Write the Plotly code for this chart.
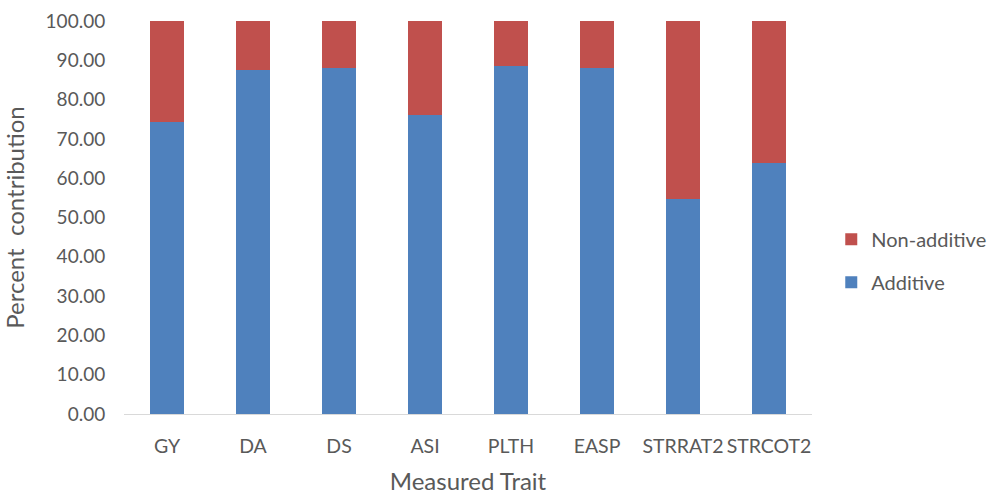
import plotly.graph_objects as go

traits = ["GY", "DA", "DS", "ASI", "PLTH", "EASP", "STRRAT2", "STRCOT2"]
additive = [74.4, 87.5, 88.0, 76.1, 88.6, 88.0, 54.7, 63.9]
non_additive = [round(100 - a, 2) for a in additive]
y_ticks = [0, 10, 20, 30, 40, 50, 60, 70, 80, 90, 100]

FONT = "Lato"
GREY = "#595959"

fig = go.Figure()
fig.add_trace(go.Bar(name="Additive", x=traits, y=additive,
                     marker=dict(color="#4F81BD", line=dict(width=0)),
                     legendgroup="a", legendrank=2))
fig.add_trace(go.Bar(name="Non-additive", x=traits, y=non_additive,
                     marker=dict(color="#C0504D", line=dict(width=0)),
                     legendgroup="b", legendrank=1))

fig.update_layout(
    barmode="stack",
    bargap=0.6,
    width=990, height=495,
    margin=dict(l=124, r=178, t=21, b=81, autoexpand=False),
    paper_bgcolor="white", plot_bgcolor="white",
    font=dict(family=FONT, size=17, color=GREY),
    legend=dict(traceorder="grouped", x=1.028, y=0.39, xanchor="left", yanchor="middle",
                font=dict(family=FONT, size=20, color=GREY), tracegroupgap=14,
                itemwidth=30),
    showlegend=True,
)
fig.update_xaxes(showline=True, linecolor="#D9D9D9", linewidth=1, showgrid=False,
                 ticks="outside", ticklen=15, tickcolor="rgba(0,0,0,0)",
                 tickfont=dict(family=FONT, size=19.5, color=GREY),
                 title=dict(text="Measured Trait", font=dict(family=FONT, size=24, color=GREY), standoff=16))
fig.update_yaxes(range=[0, 100], tickvals=y_ticks, tickformat=".2f", showgrid=False,
                 showline=False, zeroline=False,
                 ticks="outside", ticklen=14, tickcolor="rgba(0,0,0,0)",
                 tickfont=dict(family=FONT, size=19, color=GREY),
                 title=dict(text="Percent  contribution", font=dict(family=FONT, size=24, color=GREY), standoff=15))

fig.write_html("out.html")
